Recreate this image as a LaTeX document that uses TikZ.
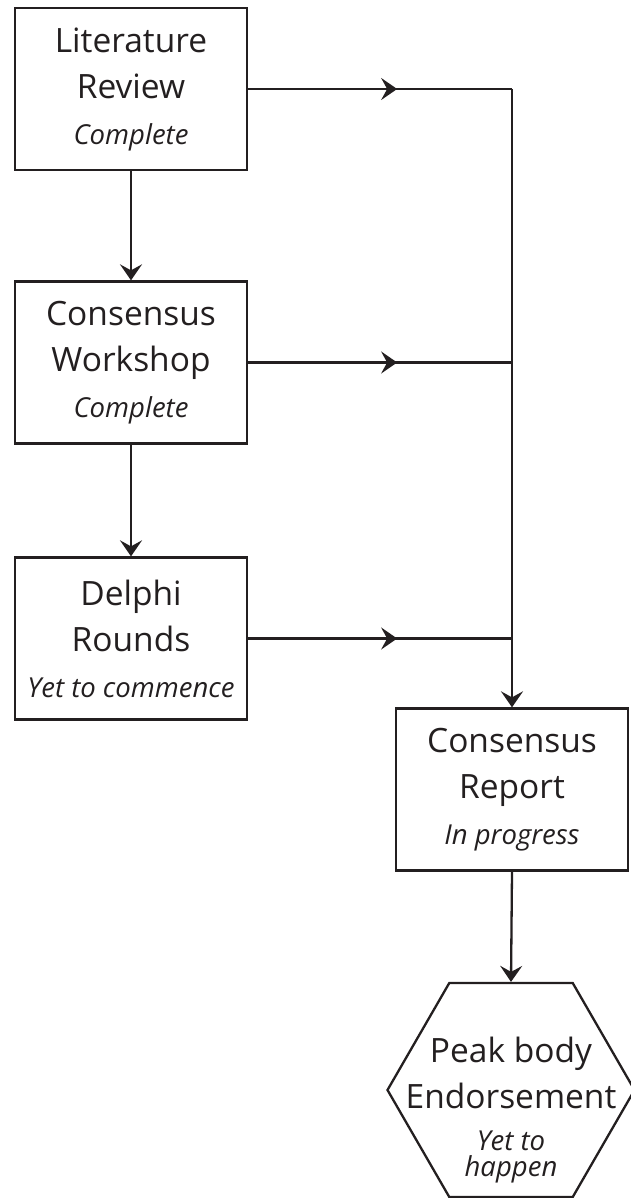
\documentclass[tikz,border=0pt]{standalone}
\usepackage{fontspec}
\setmainfont{Open Sans}
\usetikzlibrary{arrows.meta,shapes.geometric,decorations.markings}
\definecolor{ink}{HTML}{231F20}
\newcommand{\mtxt}{\fontsize{33.5}{46}\selectfont}
\newcommand{\stxt}{\fontsize{27.5}{30}\selectfont\itshape}
\begin{document}
\begin{tikzpicture}[x=1pt,y=-1pt,
  box/.style={draw=ink, line width=2.3pt, minimum width=232pt, minimum height=162pt, inner sep=0pt, align=center, text=ink, font=\mtxt},
  hexa/.style={draw=ink, line width=2.3pt, regular polygon, regular polygon sides=6, minimum size=247pt, inner sep=0pt},
  lbl/.style={align=center, text=ink, font=\mtxt, inner sep=0pt},
  link/.style={draw=ink, line width=2.3pt},
  tip/.style={-{Stealth[length=16pt,width=22pt,inset=6pt]}},
  midarrow/.style={postaction={decorate}, decoration={markings, mark=at position 149pt with {\arrow{Stealth[length=16pt,width=22pt,inset=6pt]}}}}
]
\useasboundingbox (0,0) rectangle (631,1198);
\node[box] (lit) at (131,89) {Literature\\Review\\{\stxt Complete}};
\node[box] (work) at (131,362.5) {Consensus\\Workshop\\{\stxt Complete}};
\node[box] (delphi) at (131,638.5) {Delphi\\Rounds\\{\stxt Yet to commence}};
\node[box] (rep) at (512,789.5) {Consensus\\Report\\{\stxt In progress}};
\node[hexa] (hex) at (511,1090) {};
\node[lbl] (hextext) at (511,1110) {Peak body\\Endorsement\\[-4pt]{\stxt Yet to}\\[-20pt]{\stxt happen}};
\coordinate (corner) at (lit.east -| rep.north);
\draw[link, midarrow] (lit.east) -- (corner);
\draw[link, tip] (corner) -- (rep.north);
\draw[link, midarrow] (work.east) -- (work.east -| rep.north);
\draw[link, midarrow] (delphi.east) -- (delphi.east -| rep.north);
\draw[link, tip] (lit.south) -- (work.north);
\draw[link, tip] (work.south) -- (delphi.north);
\draw[link, tip] (rep.south) -- (hex.north);
\end{tikzpicture}
\end{document}
